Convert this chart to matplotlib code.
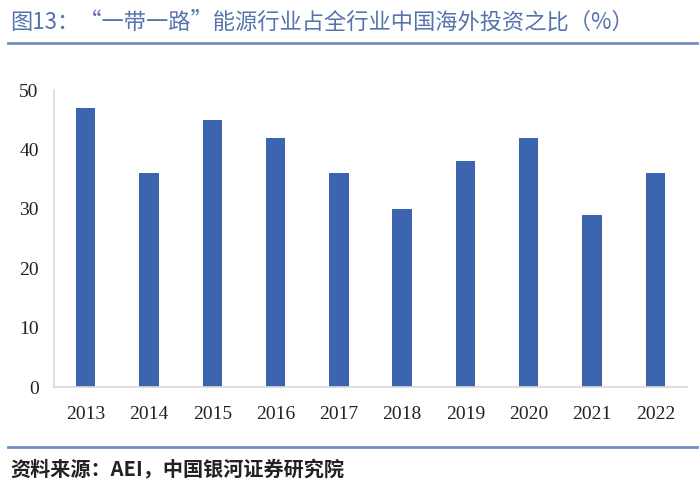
import matplotlib
matplotlib.use("Agg")
import matplotlib.pyplot as plt
from matplotlib.lines import Line2D

years = ["2013", "2014", "2015", "2016", "2017", "2018", "2019", "2020", "2021", "2022"]
shares = [47, 36, 45, 42, 36, 30, 38, 42, 29, 36]
yticks = [0, 10, 20, 30, 40, 50]
title = "图13：“一带一路”能源行业占全行业中国海外投资之比（%）"
source = "资料来源：AEI，中国银河证券研究院"

W, H = 700, 495
fig = plt.figure(figsize=(7, 4.95), dpi=100)

ax = fig.add_axes([54 / W, 1 - 387 / H, (687 - 54) / W, (387 - 90) / H])
x = list(range(len(years)))
ax.bar(x, shares, width=0.305, color="#3D64AE", zorder=2)
ax.set_xlim(-0.5, len(years) - 0.5)
ax.set_ylim(0, 50)
ax.set_yticks(yticks)
ax.set_xticks(x)
ax.set_xticklabels(years)
for lab in ax.get_xticklabels() + ax.get_yticklabels():
    lab.set_fontfamily("Liberation Serif")
    lab.set_fontsize(14)
    lab.set_color("#222222")
ax.tick_params(axis="both", length=0)
ax.tick_params(axis="x", pad=14)
ax.tick_params(axis="y", pad=11)
for s in ["top", "right"]:
    ax.spines[s].set_visible(False)
for s in ["left", "bottom"]:
    ax.spines[s].set_color("#D9D9D9")
    ax.spines[s].set_linewidth(1.2)

fig.text(10 / W, 1 - 22 / H, title, fontsize=16, color="#5573AC",
         family=["Noto Sans CJK SC", "DejaVu Sans"], va="center", ha="left")
fig.add_artist(Line2D([8 / W, 697 / W], [1 - 43 / H, 1 - 43 / H],
                      transform=fig.transFigure, color="#6F8DC0", linewidth=2))
fig.add_artist(Line2D([8 / W, 697 / W], [1 - 447 / H, 1 - 447 / H],
                      transform=fig.transFigure, color="#6F8DC0", linewidth=2))
fig.text(10 / W, 1 - 469 / H, source, fontsize=14.5, color="#222222",
         family=["Noto Sans CJK SC", "DejaVu Sans"], fontweight="bold",
         style="italic", va="center", ha="left")

fig.savefig("out.png", dpi=100)
